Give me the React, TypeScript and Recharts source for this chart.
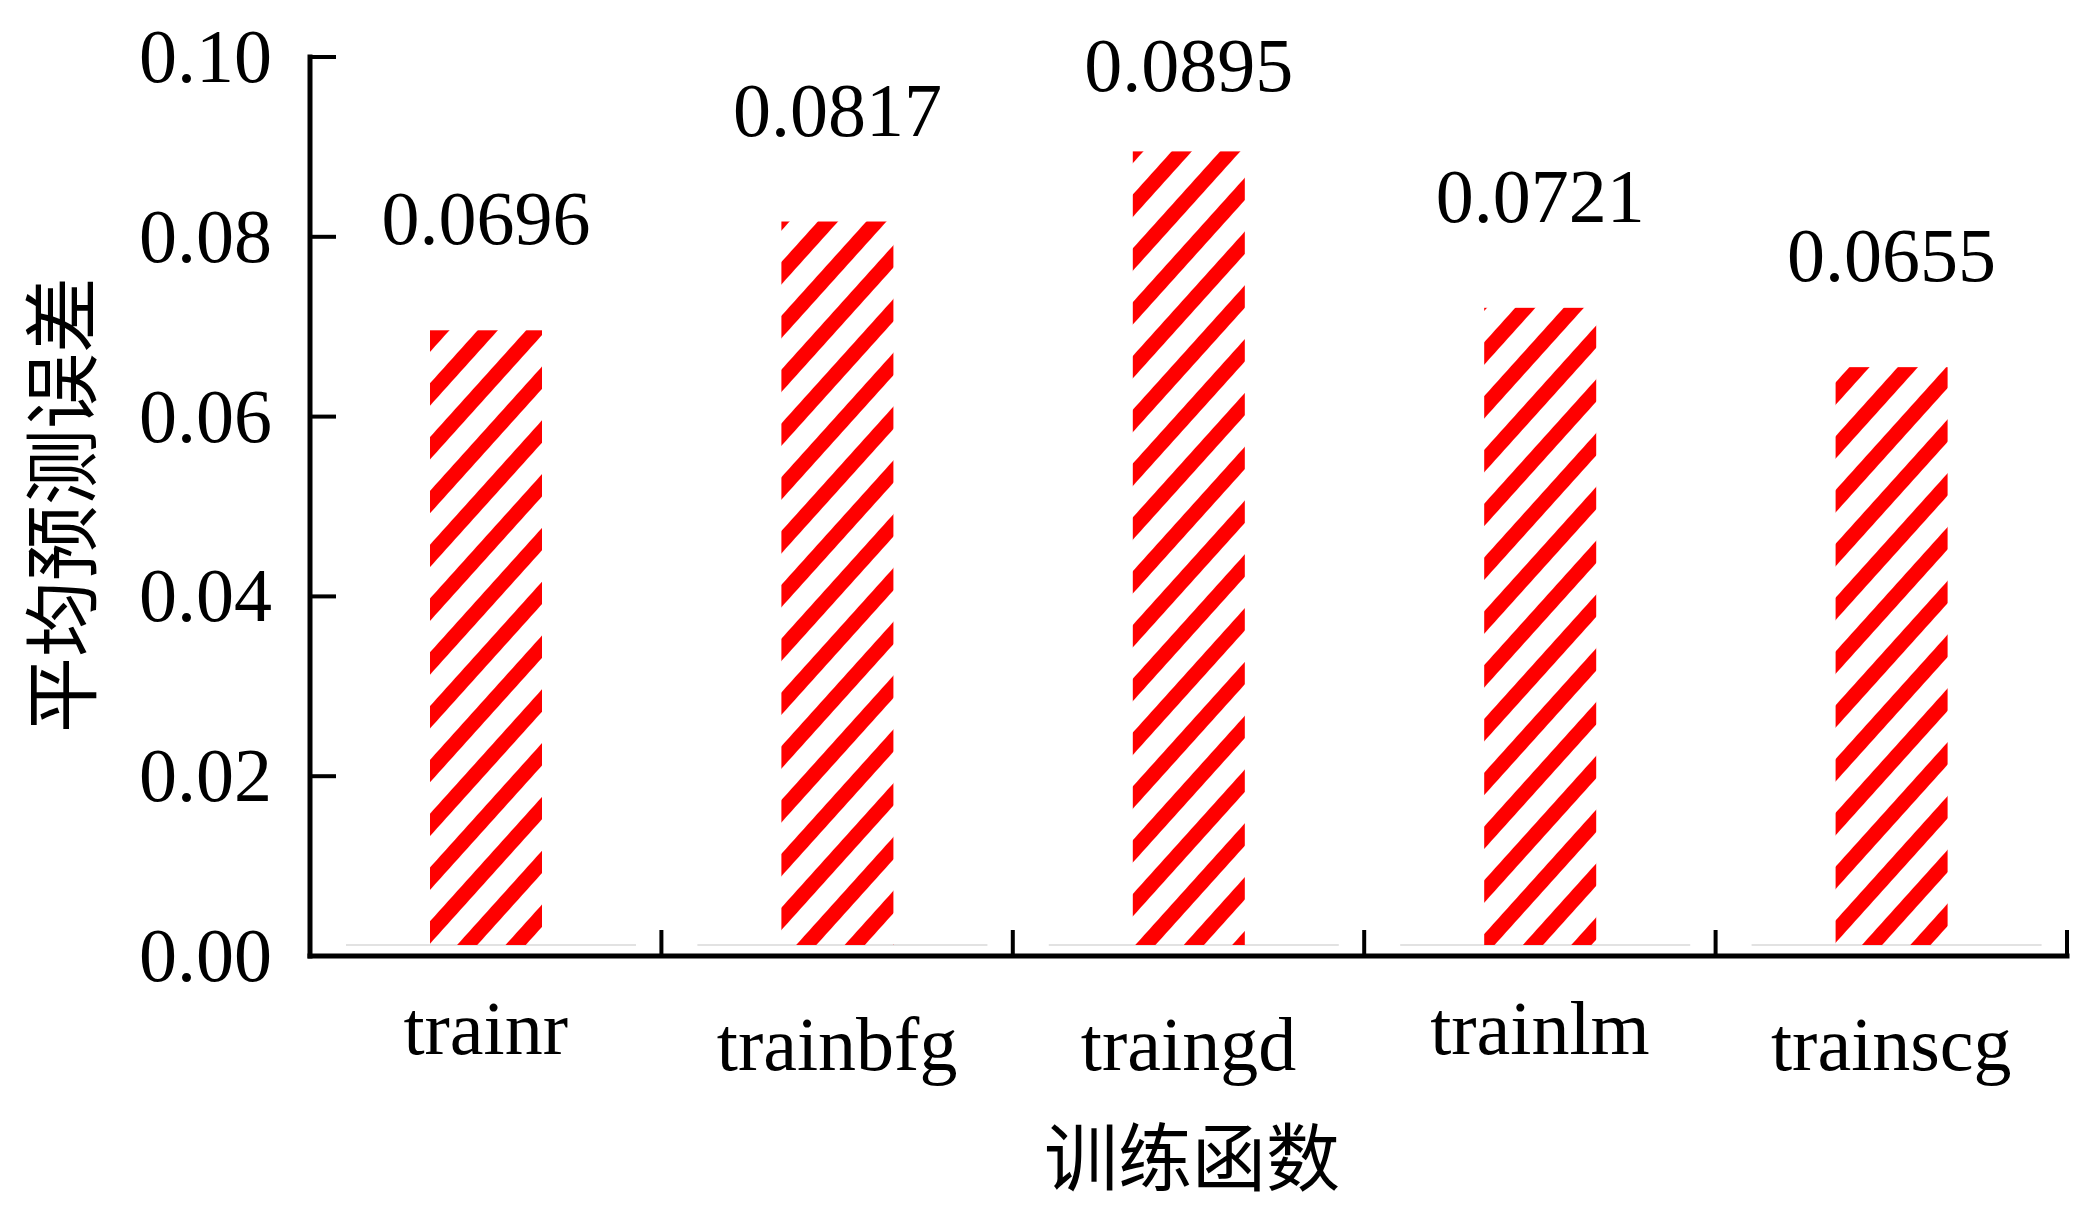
import React from "react";
import { BarChart, Bar, XAxis, YAxis, LabelList } from "recharts";

const categories = ["trainr", "trainbfg", "traingd", "trainlm", "trainscg"];
const errors = [0.0696, 0.0817, 0.0895, 0.0721, 0.0655];
const yTicks = [0, 0.02, 0.04, 0.06, 0.08, 0.1];

const data = categories.map((name, i) => ({ name, value: errors[i] }));

const W = 2087;
const H = 1213;
const PLOT_LEFT = 310;
const PLOT_TOP = 57;
const PLOT_RIGHT = 2067;
const PLOT_BOTTOM = 956;
const BAND = (PLOT_RIGHT - PLOT_LEFT) / categories.length;

const serif = '"Liberation Serif", "Times New Roman", serif';
const cjk = '"Noto Sans CJK SC", sans-serif';

function XTick(props: any) {
  const { x, payload } = props;
  const low = /[gjpqy]/.test(String(payload.value));
  const bx = x + BAND / 2;
  return (
    <g>
      <line x1={bx} x2={bx} y1={PLOT_BOTTOM} y2={PLOT_BOTTOM - 26} stroke="#000" strokeWidth={4} />
      <text x={x} y={low ? 1070 : 1054} textAnchor="middle" fontSize={76} fontFamily={serif} fill="#000">
        {payload.value}
      </text>
    </g>
  );
}

function YTick(props: any) {
  const { y, payload } = props;
  return (
    <g>
      <line x1={PLOT_LEFT} x2={PLOT_LEFT + 26} y1={y} y2={y} stroke="#000" strokeWidth={4} />
      <text x={272} y={y + 25} textAnchor="end" fontSize={76} fontFamily={serif} fill="#000">
        {Number(payload.value).toFixed(2)}
      </text>
    </g>
  );
}

function HatchBar(props: any) {
  const { x, y, width, height } = props;
  const h = Math.max(height - 11, 0);
  const cx = x + width / 2;
  return (
    <g>
      <line x1={cx - 140} x2={cx + 150} y1={y + h} y2={y + h} stroke="#e2e2e2" strokeWidth={2} />
      <rect x={x} y={y} width={width} height={h} fill="url(#hatch)" />
    </g>
  );
}

function ValueLabel(props: any) {
  const { x, y, width, value } = props;
  return (
    <text x={x + width / 2} y={Math.max(y - 86, 91)} textAnchor="middle" fontSize={76} fontFamily={serif} fill="#000">
      {Number(value).toFixed(4)}
    </text>
  );
}

export default function App() {
  return (
    <div style={{ position: "absolute", left: 0, top: 0, width: W, height: H, background: "#fff" }}>
      <BarChart
        width={W}
        height={H}
        data={data}
        margin={{ top: PLOT_TOP, right: W - PLOT_RIGHT, left: 10, bottom: 57 }}
      >
        <defs>
          <pattern id="hatch" patternUnits="userSpaceOnUse" width={36} height={36} patternTransform="rotate(42)">
            <rect x={0} y={0} width={15} height={36} fill="#ff0000" />
          </pattern>
        </defs>
        <XAxis
          dataKey="name"
          height={200}
          axisLine={{ stroke: "#000", strokeWidth: 5, strokeLinecap: "square" }}
          tickLine={false}
          tick={(p: any) => <XTick {...p} />}
          interval={0}
          label={() => (
            <text x={1192} y={1185} textAnchor="middle" fontSize={74} fontFamily={cjk} fill="#000">
              训练函数
            </text>
          )}
        />
        <YAxis
          width={300}
          domain={[0, 0.1]}
          ticks={yTicks}
          axisLine={{ stroke: "#000", strokeWidth: 5, strokeLinecap: "square" }}
          tickLine={false}
          tick={(p: any) => <YTick {...p} />}
          label={() => (
            <text
              x={57}
              y={505}
              transform="rotate(-90 57 505)"
              textAnchor="middle"
              dominantBaseline="central"
              fontSize={76}
              fontFamily={cjk}
              fill="#000"
            >
              平均预测误差
            </text>
          )}
        />
        <Bar dataKey="value" barSize={112} shape={(p: any) => <HatchBar {...p} />} isAnimationActive={false}>
          <LabelList dataKey="value" content={(p: any) => <ValueLabel {...p} />} />
        </Bar>
      </BarChart>
    </div>
  );
}
